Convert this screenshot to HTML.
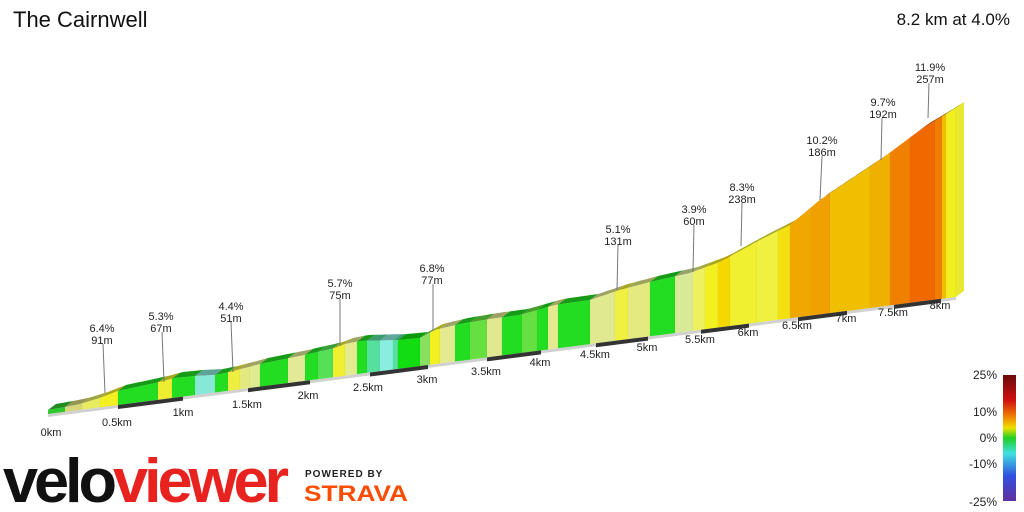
<!DOCTYPE html>
<html><head><meta charset="utf-8"><style>
body{margin:0;width:1024px;height:512px;background:#fff;overflow:hidden;font-family:"Liberation Sans",sans-serif}
svg{position:absolute;left:0;top:0}
</style></head><body>
<svg id="s" width="1024" height="512" viewBox="0 0 1024 512">
<defs><linearGradient id="lg" x1="0" y1="0" x2="0" y2="1">
<stop offset="0" stop-color="#6a0a0a"/><stop offset="0.2" stop-color="#d01010"/><stop offset="0.33" stop-color="#f08000"/><stop offset="0.42" stop-color="#f0e000"/><stop offset="0.5" stop-color="#20d020"/><stop offset="0.62" stop-color="#40e0e0"/><stop offset="0.8" stop-color="#3050e0"/><stop offset="1" stop-color="#6030a0"/></linearGradient></defs>
<g id="prof"></g>
<g id="ann" font-family="Liberation Sans,sans-serif" font-size="11" fill="#222" text-anchor="middle" stroke-width="1">
<g stroke="#777"><line x1="103" y1="344" x2="105" y2="393"/><line x1="162" y1="332" x2="164" y2="382"/><line x1="231" y1="322" x2="233" y2="372"/><line x1="340" y1="299" x2="340" y2="346"/><line x1="433" y1="284" x2="433" y2="331"/><line x1="618" y1="245" x2="617" y2="290"/><line x1="694" y1="225" x2="693" y2="272"/><line x1="742" y1="203" x2="741" y2="246"/><line x1="822" y1="156" x2="820" y2="200"/><line x1="882" y1="118" x2="881" y2="160"/><line x1="929" y1="83" x2="928" y2="118"/></g>
<text x="102" y="332">6.4%</text><text x="102" y="344">91m</text>
<text x="161" y="320">5.3%</text><text x="161" y="332">67m</text>
<text x="231" y="310">4.4%</text><text x="231" y="322">51m</text>
<text x="340" y="287">5.7%</text><text x="340" y="299">75m</text>
<text x="432" y="272">6.8%</text><text x="432" y="284">77m</text>
<text x="618" y="233">5.1%</text><text x="618" y="245">131m</text>
<text x="694" y="213">3.9%</text><text x="694" y="225">60m</text>
<text x="742" y="191">8.3%</text><text x="742" y="203">238m</text>
<text x="822" y="144">10.2%</text><text x="822" y="156">186m</text>
<text x="883" y="106">9.7%</text><text x="883" y="118">192m</text>
<text x="930" y="71">11.9%</text><text x="930" y="83">257m</text>
</g>
<g font-family="Liberation Sans,sans-serif" font-size="11" fill="#222" text-anchor="middle">
<text x="51" y="436">0km</text><text x="117" y="426">0.5km</text><text x="183" y="416">1km</text><text x="247" y="408">1.5km</text><text x="308" y="399">2km</text><text x="368" y="391">2.5km</text><text x="427" y="383">3km</text><text x="486" y="375">3.5km</text><text x="540" y="366">4km</text><text x="595" y="358">4.5km</text><text x="647" y="351">5km</text><text x="700" y="343">5.5km</text><text x="748" y="336">6km</text><text x="797" y="329">6.5km</text><text x="846" y="322">7km</text><text x="893" y="316">7.5km</text><text x="940" y="309">8km</text>
</g>
<rect x="1003" y="375" width="13" height="126" fill="url(#lg)"/>
<g font-family="Liberation Sans,sans-serif" font-size="12" fill="#222" text-anchor="end">
<text x="997" y="379">25%</text><text x="997" y="416">10%</text><text x="997" y="442">0%</text><text x="997" y="468">-10%</text><text x="997" y="506">-25%</text></g>
<text x="13" y="27" font-size="22" fill="#111" font-family="Liberation Sans,sans-serif">The Cairnwell</text>
<text x="1010" y="25" font-size="17" fill="#111" text-anchor="end" font-family="Liberation Sans,sans-serif">8.2 km at 4.0%</text>
<text x="3" y="502" font-size="62" font-weight="bold" letter-spacing="-4" font-family="Liberation Sans,sans-serif" textLength="282" lengthAdjust="spacingAndGlyphs"><tspan fill="#111">velo</tspan><tspan fill="#e8231f">viewer</tspan></text>
<text x="305" y="477" font-size="10" font-weight="bold" fill="#222" font-family="Liberation Sans,sans-serif" letter-spacing="1">POWERED BY</text>
<text x="304" y="501" font-size="22" font-weight="bold" fill="#fc4c02" font-family="Liberation Sans,sans-serif" textLength="104" lengthAdjust="spacingAndGlyphs">STRAVA</text>
</svg>
<script>
var NS="http://www.w3.org/2000/svg",g=document.getElementById('prof');
function by(x){return 414-(x-48)*0.129;}
var P=[[48,410],[65,407],[80,404],[100,398],[118,391],[160,382],[175,378],[195,376],[215,375],[230,372],[260,364],[300,356],[335,348],[345,344],[360,341],[400,340],[420,338],[435,330],[460,324],[490,319],[520,315],[555,305],[590,300],[620,290],[650,282],[690,273],[720,262],[760,240],[790,225],[820,200],[850,180],[880,160],[920,130],[945,115],[956,108]];
function ty(x){for(var i=0;i<P.length-1;i++){if(x<=P[i+1][0]){var t=(x-P[i][0])/(P[i+1][0]-P[i][0]);return P[i][1]+t*(P[i+1][1]-P[i][1]);}}return P[P.length-1][1];}
var S=[[48,65,'#2ec82e'],[65,82,'#d6d67a'],[82,100,'#e8ec60'],[100,118,'#f2f020'],[118,158,'#22dd22'],[158,172,'#eeee30'],[172,195,'#22dd22'],[195,215,'#88e8d8'],[215,228,'#22dd22'],[228,240,'#eeee40'],[240,250,'#e4e880'],[250,260,'#e0ea90'],[260,288,'#22dd22'],[288,305,'#e2ea98'],[305,318,'#22dd22'],[318,333,'#55e055'],[333,345,'#f0f030'],[345,357,'#e4ea90'],[357,367,'#22dd22'],[367,380,'#55e0a0'],[380,393,'#88eee0'],[393,398,'#55e0a0'],[398,420,'#11dd11'],[420,430,'#88e060'],[430,440,'#f2f020'],[440,455,'#e4ea90'],[455,470,'#22dd22'],[470,487,'#66e040'],[487,502,'#e0e890'],[502,522,'#22dd22'],[522,537,'#66e040'],[537,548,'#22dd22'],[548,558,'#e4ea90'],[558,590,'#22dd22'],[590,615,'#e0e890'],[615,628,'#f0f040'],[628,650,'#e4ea80'],[650,675,'#22dd22'],[675,693,'#d8ea98'],[693,705,'#eef060'],[705,718,'#f2f020'],[718,730,'#f4d800'],[730,757,'#f0f030'],[757,778,'#f0f040'],[778,790,'#f4e010'],[790,812,'#f0a800'],[812,830,'#f0a000'],[830,870,'#f0c000'],[870,890,'#f0b000'],[890,910,'#f08000'],[910,935,'#f06800'],[935,942,'#f07c00'],[942,946,'#f0c000'],[946,956,'#f0f020']];
function poly(pts,fill,op){var p=document.createElementNS(NS,'polygon');p.setAttribute('points',pts.map(function(a){return a[0].toFixed(1)+','+a[1].toFixed(1)}).join(' '));p.setAttribute('fill',fill);if(op)p.setAttribute('fill-opacity',op);g.appendChild(p);}
poly([[48,by(48)],[956,by(956)],[964,by(964)-5],[56,by(56)-5]],'#e4e4e4');
poly([[48,by(48)],[956,by(956)],[956,by(956)+3],[48,by(48)+3]],'#d0d0d0');
S.forEach(function(s){var a=s[0],b=s[1];var xs=[];for(var x=a;x<b;x+=4)xs.push(x);xs.push(b);
 var top=xs.map(function(x){return [x,ty(x)]});var bev=xs.slice().reverse().map(function(x){return [x+8,ty(x)-6]});
 poly(top.concat(bev),s[2]);poly(top.concat(bev),'#000','0.3');
 poly(top.concat([[b,by(b)],[a,by(a)]]),s[2]);
 var l=document.createElementNS(NS,'line');l.setAttribute('x1',b);l.setAttribute('x2',b);l.setAttribute('y1',ty(b));l.setAttribute('y2',by(b));l.setAttribute('stroke','#000');l.setAttribute('stroke-opacity','0.06');g.appendChild(l);
});
poly([[956,ty(956)],[964,ty(956)-6],[964,by(964)-5],[956,by(956)]],'#e8e830');
var K=[48,118,183,248,310,370,428,487,541,596,648,701,749,798,847,894,941];
for(var i=1;i<K.length-1;i+=2){poly([[K[i],by(K[i])],[K[i+1],by(K[i+1])],[K[i+1],by(K[i+1])+4],[K[i],by(K[i])+4]],'#333');}
</script>
</body></html>
